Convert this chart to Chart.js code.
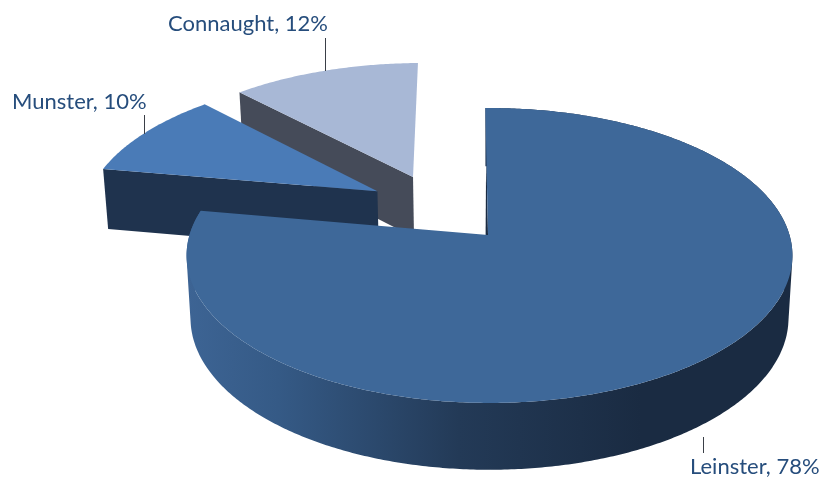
<!DOCTYPE html>
<html>
<head>
<meta charset="utf-8">
<style>
  html, body { margin: 0; padding: 0; background: #fff; }
  #wrap { width: 822px; height: 482px; }
</style>
<script src="https://cdn.jsdelivr.net/npm/chart.js@4"></script>
</head>
<body>
<div id="wrap"><canvas id="pie" width="822" height="482"></canvas></div>
<script>
// Chart data
const provinces = ['Leinster', 'Munster', 'Connaught'];
const shares = [78, 10, 12];

// Look of each slice
const topColours = ['#3e6899', '#4a7bb7', '#a8b8d6'];
const edgeColours = ['#1a2b42', '#1f334e', '#454b59'];

// Perspective of the pie plane, fitted to the picture
const view = { cx: 489.5, cy: 235, rx: 300, ry: 144.6, persp: 0.139, height: 62, shrink: 0.987 };
// How far each slice is pulled out of the centre, in radius units
const pulled = [[0, 0], [-0.39, 0.315], [-0.27, 0.425]];
const leinsterApexNudge = -0.005;
const labelBoxes = [
  { x: 690, y: 467, line: [703, 437, 703, 453] },
  { x: 12, y: 102, line: [144, 134, 144, 115] },
  { x: 168, y: 24, line: [325, 71, 325, 38] }
];

// Unit disc point to the screen, z = 0 top face, z = 1 bottom face
const project = (x, y, z) => {
  const d = 1 + view.persp * y;
  const k = z ? view.shrink : 1;
  return [view.cx + k * view.rx * x / d, view.cy - view.ry * y / d + z * view.height / Math.sqrt(d)];
};

const tracePath = (ctx, pts) => {
  ctx.beginPath();
  pts.forEach((p, i) => (i ? ctx.lineTo(p[0], p[1]) : ctx.moveTo(p[0], p[1])));
  ctx.closePath();
};

// Signed area, used to give all wall quads the same winding
const area = (q) => q.reduce((sum, p, i) => {
  const n = q[(i + 1) % q.length];
  return sum + p[0] * n[1] - n[0] * p[1];
}, 0);

const drawSlice = (ctx, arc, i) => {
  const [sx, sy] = pulled[i];
  const rim = [];
  const steps = Math.ceil((arc.endAngle - arc.startAngle) / 0.01);
  for (let s = 0; s <= steps; s++) {
    const a = arc.startAngle + (arc.endAngle - arc.startAngle) * s / steps;
    rim.push([sx + Math.cos(a), sy - Math.sin(a)]);
  }
  const first = rim[0];
  const apex = [i === 0 ? sx + leinsterApexNudge : sx, sy];
  const apexTop = project(apex[0], apex[1], 0);
  const firstTop = project(first[0], first[1], 0);

  if (i === 0) {
    // Outer wall, all the quads in one path so there are no seams
    const wallFill = ctx.createLinearGradient(187, 0, 792, 0);
    wallFill.addColorStop(0, '#3d6494');
    wallFill.addColorStop(0.15, '#355a86');
    wallFill.addColorStop(0.45, '#233a57');
    wallFill.addColorStop(0.75, '#1a2b42');
    wallFill.addColorStop(1, '#1a2b42');
    ctx.beginPath();
    for (let s = 0; s < rim.length - 1; s++) {
      const a = rim[s];
      const b = rim[s + 1];
      const q = [project(a[0], a[1], 0), project(b[0], b[1], 0), project(b[0], b[1], 1), project(a[0], a[1], 1)];
      if (area(q) < 0) q.reverse();
      q.forEach((p, n) => (n ? ctx.lineTo(p[0], p[1]) : ctx.moveTo(p[0], p[1])));
      ctx.closePath();
    }
    ctx.fillStyle = wallFill;
    ctx.fill();
    // thin dark sliver next to Leinster's straight edge
    tracePath(ctx, [apexTop, [apexTop[0] + (firstTop[0] - apexTop[0]) * 0.68, apexTop[1] + (firstTop[1] - apexTop[1]) * 0.68], [apexTop[0] - 2.4, apexTop[1]]]);
    ctx.fillStyle = edgeColours[0];
    ctx.fill();
  } else {
    // Only the front straight wall shows on the pulled out slices
    tracePath(ctx, [apexTop, firstTop, project(first[0], first[1], 1), project(apex[0], apex[1], 1)]);
    ctx.fillStyle = edgeColours[i];
    ctx.fill();
  }

  // Top face
  tracePath(ctx, [apexTop].concat(rim.map(p => project(p[0], p[1], 0))));
  ctx.fillStyle = topColours[i];
  ctx.fill();
};

const pie3d = {
  id: 'pie3d',
  beforeDatasetsDraw(chart) {
    const ctx = chart.ctx;
    const arcs = chart.getDatasetMeta(0).data;
    ctx.save();
    // Connaught, Munster, then Leinster on top of their walls
    for (let i = arcs.length - 1; i >= 0; i--) drawSlice(ctx, arcs[i], i);

    // Leader lines and labels
    ctx.strokeStyle = '#3a3f47';
    ctx.lineWidth = 1;
    ctx.fillStyle = '#264d7c';
    ctx.font = '22px Lato, "Open Sans", sans-serif';
    ctx.textBaseline = 'middle';
    ctx.textAlign = 'left';
    provinces.forEach((name, i) => {
      const box = labelBoxes[i];
      ctx.beginPath();
      ctx.moveTo(box.line[0] + 0.5, box.line[1]);
      ctx.lineTo(box.line[2] + 0.5, box.line[3]);
      ctx.stroke();
      ctx.fillText(`${name}, ${shares[i]}%`, box.x, box.y);
    });
    ctx.restore();
    return false; // the flat arcs are replaced by the drawing above
  }
};

new Chart(document.getElementById('pie'), {
  type: 'pie',
  data: {
    labels: provinces,
    datasets: [{ data: shares, backgroundColor: topColours, borderWidth: 0 }]
  },
  options: {
    responsive: false,
    animation: false,
    rotation: -0.9,
    plugins: { legend: { display: false }, tooltip: { enabled: false } }
  },
  plugins: [pie3d]
});
</script>
</body>
</html>
